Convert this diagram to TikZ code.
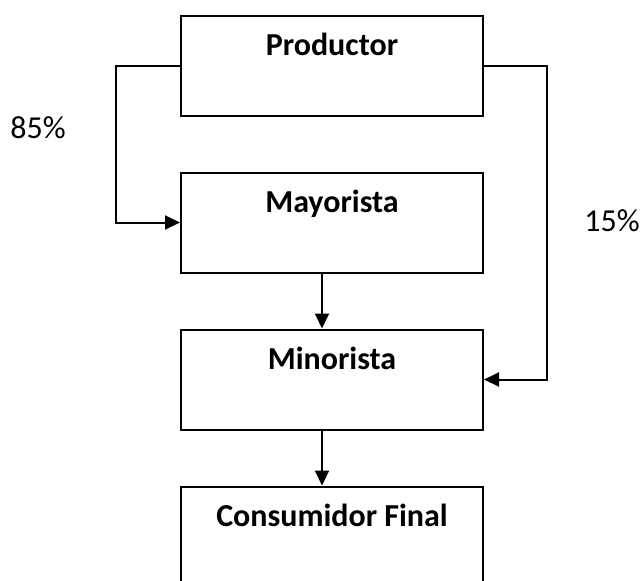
\documentclass[tikz,border=0pt]{standalone}
\usepackage{fontspec}
\setmainfont{Carlito}
\usetikzlibrary{arrows.meta}
\tikzset{
	every box/.style={
		rectangle,
		draw,
		line width=1pt,
		minimum width=151pt,
		inner sep=0pt,
		text height=20pt,
		text depth=30pt,
		font=\fontsize{16}{19}\selectfont\bfseries
	},
	share/.style={
		font=\fontsize{16}{19}\selectfont
	},
}

\begin{document}
\begin{tikzpicture}[x=0.5pt, y=-0.5pt, >={Triangle[length=7.5pt,width=7pt]}]

\clip (0,0) rectangle (641,580);

\foreach \n/\t [count=\y] in {prod/Productor, may/Mayorista, min/Minorista, con/Consumidor Final}
	\node [every box/.try] (\n) at (332,65.5+157*\y-157) {\t};

\node [share] (p85) at (38,128) {85\%};
\node [share] (p15) at (612,221) {15\%};

\draw [->, line width=1pt] (prod.west) -- ++(-64,0) |- (may.west);
\draw [->, line width=1pt] (prod.east) -- ++(63,0) |- (min.east);

\foreach \a/\b in {may/min, min/con}
	\draw [->, line width=1pt] ([xshift=-5pt]\a.south) -- ([xshift=-5pt]\b.north);

\end{tikzpicture}
\end{document}
